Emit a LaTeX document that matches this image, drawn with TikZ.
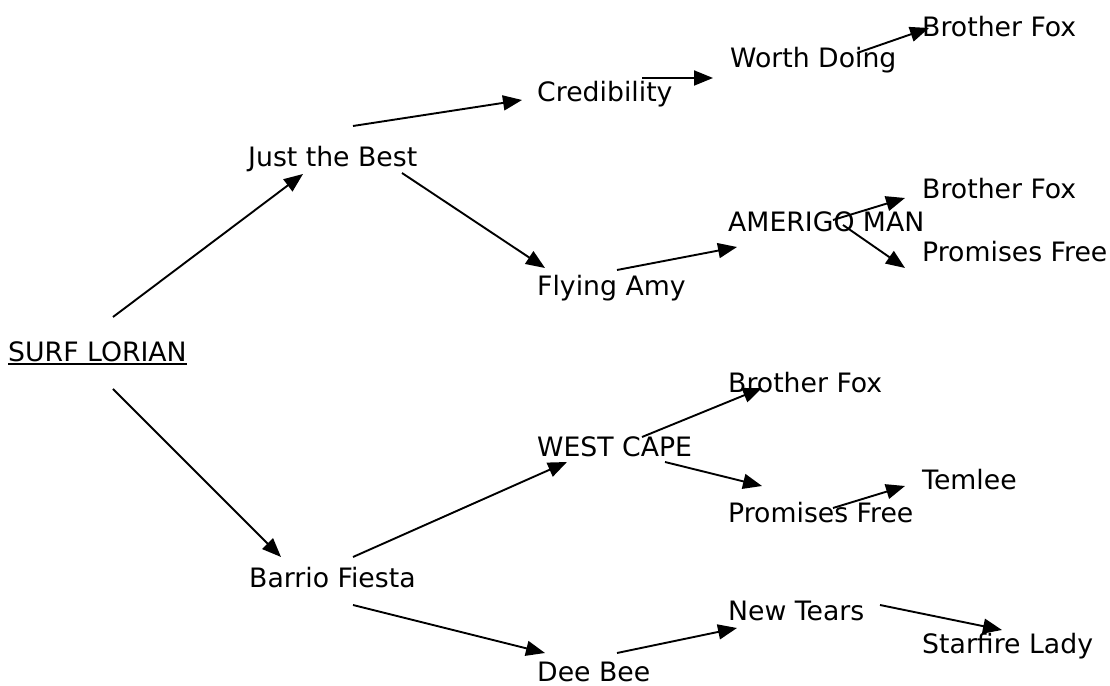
\documentclass[tikz,border=0pt]{standalone}
\usepackage{fontspec}
\setmainfont{DejaVu Sans}
\usetikzlibrary{arrows.meta}

\tikzset{
  lbl/.style={anchor=base west, inner sep=0pt, font=\fontsize{26.7}{32}\selectfont},
  arr/.style={line width=1.9pt, -{Triangle[length=19pt,width=15pt]}}
}

\begin{document}
\begin{tikzpicture}[x=1pt,y=1pt]
		\useasboundingbox (0,0) rectangle (1110,685);
		% names
		\node[lbl] (surf) at (8,323) {SURF LORIAN};
		\draw[line width=1.8pt] ([yshift=-2]surf.base west) -- ([yshift=-2]surf.base east);
		\node[lbl] (just) at (248,518) {Just the Best};
		\node[lbl] (barrio) at (249,97) {Barrio Fiesta};
		\node[lbl] (cred) at (537,583) {Credibility};
		\node[lbl] (flying) at (537,389) {Flying Amy};
		\node[lbl] (west) at (537,228) {WEST CAPE};
		\node[lbl] (dee) at (537,3.5) {Dee Bee};
		\node[lbl] (worth) at (730,617) {Worth Doing};
		\node[lbl] (amerigo) at (728,453) {AMERIGO MAN};
		\node[lbl] (foxC) at (728,292) {Brother Fox};
		\node[lbl] (promC) at (728,162) {Promises Free};
		\node[lbl] (newt) at (728,65) {New Tears};
		\node[lbl] (foxA) at (922,648) {Brother Fox};
		\node[lbl] (foxB) at (922,486) {Brother Fox};
		\node[lbl] (promB) at (922,423) {Promises Free};
		\node[lbl] (temlee) at (922,195) {Temlee};
		\node[lbl] (starfire) at (922,32) {Starfire Lady};
		% arrows
		\draw[arr] ([shift={(105,45)}]surf.base west) -- ([shift={(55,-7)}]just.base west);
		\draw[arr] ([shift={(105,-27)}]surf.base west) -- ([shift={(32,31)}]barrio.base west);
		\draw[arr] ([shift={(105,41)}]just.base west) -- ([shift={(-15,2)}]cred.base west);
		\draw[arr] ([shift={(154,-6)}]just.base west) -- ([shift={(8,28)}]flying.base west);
		\draw[arr] ([shift={(105,24)}]cred.base west) -- ([shift={(-17,-10)}]worth.base west);
		\draw[arr] ([shift={(127,15)}]worth.base west) -- ([shift={(7,9)}]foxA.base west);
		\draw[arr] ([shift={(80,26)}]flying.base west) -- ([shift={(9,-15)}]amerigo.base west);
		\draw[arr] ([shift={(105,12)}]amerigo.base west) -- ([shift={(-17,1)}]foxB.base west);
		\draw[arr] ([shift={(115,7)}]amerigo.base west) -- ([shift={(-17,-6)}]promB.base west);
		\draw[arr] ([shift={(104,31)}]barrio.base west) -- ([shift={(30,-5)}]west.base west);
		\draw[arr] ([shift={(104,-17)}]barrio.base west) -- ([shift={(8,28.5)}]dee.base west);
		\draw[arr] ([shift={(105,20)}]west.base west) -- ([shift={(34,5)}]foxC.base west);
		\draw[arr] ([shift={(128,-5)}]west.base west) -- ([shift={(34,37)}]promC.base west);
		\draw[arr] ([shift={(105,15)}]promC.base west) -- ([shift={(-17,4)}]temlee.base west);
		\draw[arr] ([shift={(80,28.5)}]dee.base west) -- ([shift={(9,-8)}]newt.base west);
		\draw[arr] ([shift={(152,15)}]newt.base west) -- ([shift={(80,23)}]starfire.base west);
	\end{tikzpicture}
\end{document}
